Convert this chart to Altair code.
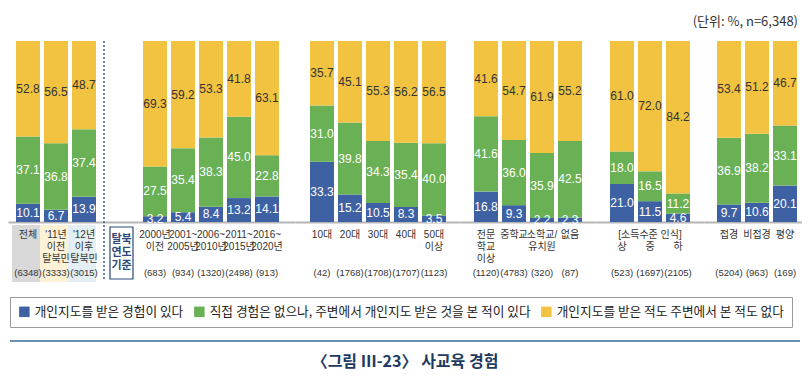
import altair as alt
import pandas as pd

# ---------------- data ----------------
categories = ["전체", "'11년 이전 탈북민", "'12년 이후 탈북민",
              "2000년 이전", "2001~2005년", "2006~2010년", "2011~2015년", "2016~2020년",
              "10대", "20대", "30대", "40대", "50대 이상",
              "전문학교 이상", "중학교", "소학교/유치원", "없음",
              "상", "중", "하",
              "접경", "비접경", "평양"]
group_of = [0, 0, 0, 1, 1, 1, 1, 1, 2, 2, 2, 2, 2, 3, 3, 3, 3, 4, 4, 4, 5, 5, 5]
label_line1 = ["전체", "'11년", "'12년", "2000년", "2001~", "2006~", "2011~", "2016~",
               "10대", "20대", "30대", "40대", "50대", "전문", "중학교", "소학교/", "없음",
               "", "[소득수준 인식]", "", "접경", "비접경", "평양"]
label_line2 = ["", "이전", "이후", "이전", "2005년", "2010년", "2015년", "2020년",
               "", "", "", "", "이상", "학교", "", "유치원", "",
               "상", "중", "하", "", "", ""]
label_line3 = ["", "탈북민", "탈북민", "", "", "", "", "",
               "", "", "", "", "", "이상", "", "", "",
               "", "", "", "", "", ""]
counts = [6348, 3333, 3015, 683, 934, 1320, 2498, 913,
          42, 1768, 1708, 1707, 1123, 1120, 4783, 320, 87,
          523, 1697, 2105, 5204, 963, 169]
had_lesson = [10.1, 6.7, 13.9, 3.2, 5.4, 8.4, 13.2, 14.1, 33.3, 15.2, 10.5, 8.3, 3.5,
              16.8, 9.3, 2.2, 2.3, 21.0, 11.5, 4.6, 9.7, 10.6, 20.1]
seen_others = [37.1, 36.8, 37.4, 27.5, 35.4, 38.3, 45.0, 22.8, 31.0, 39.8, 34.3, 35.4, 40.0,
               41.6, 36.0, 35.9, 42.5, 18.0, 16.5, 11.2, 36.9, 38.2, 33.1]
never = [52.8, 56.5, 48.7, 69.3, 59.2, 53.3, 41.8, 63.1, 35.7, 45.1, 55.3, 56.2, 56.5,
         41.6, 54.7, 61.9, 55.2, 61.0, 72.0, 84.2, 53.4, 51.2, 46.7]
series_names = ["개인지도를 받은 경험이 있다",
                "직접 경험은 없으나, 주변에서 개인지도 받은 것을 본 적이 있다",
                "개인지도를 받은 적도 주변에서 본 적도 없다"]
series_colors = ["#3e61a4", "#6ab156", "#f1c341"]
label_text_colors = ["#ffffff", "#ffffff", "#333333"]
group1_bg = ["#d9d9d9", "#fdf1d6", "#e3eff2"]
unit_text = "(단위: %, n=6,348)"
box_lines = ["탈북", "연도", "기준"]
fig_title = "〈그림 Ⅲ-23〉 사교육 경험"

# ---------------- tables ----------------
rows = []
for i, c in enumerate(categories):
    for s, vals in enumerate([had_lesson, seen_others, never]):
        rows.append({"cat": c, "group": group_of[i], "series": series_names[s],
                     "order": s, "value": vals[i], "tcolor": label_text_colors[s]})
long_df = pd.DataFrame(rows)
lab_df = pd.DataFrame({"cat": categories, "group": group_of, "l1": label_line1,
                       "l2": label_line2, "l3": label_line3,
                       "n": ["(" + str(v) + ")" for v in counts]})
lab_df["bg"] = ""
lab_df.loc[lab_df.group == 0, "bg"] = group1_bg

# ---------------- layout ----------------
H = 181
STEP = 28
PI = 4 / 28
panel_w = [130, 157, 165, 136, 108, 98]
panel_left = [8, 5, 15, 14, 14, 13]
NUM_FONT = "Liberation Sans"
LAB_FONT = "Liberation Sans, Noto Sans CJK KR"
KR_FONT = "Noto Sans CJK KR"


def panel(gi):
    cats = [c for c, g in zip(categories, group_of) if g == gi]
    n = len(cats)
    W = panel_w[gi]
    pO = (W / STEP - n + PI) / 2
    align = panel_left[gi] / (W - STEP * (n - PI))
    xenc = alt.X("cat:N", sort=cats,
                 scale=alt.Scale(domain=cats, paddingInner=PI, paddingOuter=pO, align=align),
                 axis=alt.Axis(labels=False, ticks=False, title=None,
                               domainColor="#b5b5b5", domainWidth=2))
    yscale = alt.Scale(domain=[0, 1])
    base = alt.Chart(long_df[long_df.group == gi]).transform_stack(
        stack="value", as_=["y0", "y1"], groupby=["cat"],
        sort=[alt.SortField("order")], offset="normalize"
    ).transform_calculate(mid="(datum.y0 + datum.y1) / 2")

    bars = base.mark_bar().encode(
        x=xenc,
        y=alt.Y("y0:Q", scale=yscale, axis=None),
        y2="y1:Q",
        color=alt.Color("series:N", scale=alt.Scale(domain=series_names, range=series_colors),
                        legend=alt.Legend(title=None, orient="none", legendX=2, legendY=256,
                                          direction="horizontal", symbolType="square",
                                          symbolSize=110, symbolStrokeWidth=0,
                                          labelFont=KR_FONT, labelFontSize=12.7,
                                          labelColor="#222222", labelLimit=600,
                                          columnPadding=9, labelOffset=4,
                                          strokeColor="#9a9a9a", padding=8)),
    )
    vals = base.mark_text(font=NUM_FONT, fontSize=12).encode(
        x=xenc,
        y=alt.Y("mid:Q", scale=yscale, axis=None),
        text=alt.Text("value:Q", format=".1f"),
        fill=alt.Fill("tcolor:N", scale=None),
    )
    ldata = alt.Chart(lab_df[lab_df.group == gi])
    layers = []
    if gi == 0:
        layers.append(ldata.mark_bar(width=28, xOffset=-2).encode(
            x=xenc, y=alt.value(184), y2=alt.value(241), fill=alt.Fill("bg:N", scale=None)))
    layers.append(bars)
    layers.append(vals)
    lab_style = dict(font=LAB_FONT, fontSize=10, color="#333333")
    layers.append(ldata.mark_text(**lab_style).encode(x=xenc, y=alt.value(194), text="l1:N"))
    layers.append(ldata.mark_text(**lab_style).encode(x=xenc, y=alt.value(206), text="l2:N"))
    layers.append(ldata.mark_text(**lab_style).encode(x=xenc, y=alt.value(218), text="l3:N"))
    layers.append(ldata.mark_text(font=NUM_FONT, fontSize=9.5, color="#333333").encode(
        x=xenc, y=alt.value(232), text="n:N"))

    one = alt.Chart(pd.DataFrame({"t": [unit_text], "f": [fig_title],
                                  "b0": [box_lines[0]], "b1": [box_lines[1]], "b2": [box_lines[2]]}))
    if gi == 0:
        layers.append(one.mark_rule(color="#3b5f8a", strokeDash=[2, 2], strokeWidth=1.5).encode(
            x=alt.value(96), y=alt.value(0), y2=alt.value(240)))
        layers.append(one.mark_rect(fill="transparent", stroke="#2b4a7a", strokeWidth=1.2).encode(
            x=alt.value(102), x2=alt.value(125), y=alt.value(186), y2=alt.value(238)))
        for k, yy in enumerate([199, 212, 225]):
            layers.append(one.mark_text(font=KR_FONT, fontSize=11, fontWeight="bold",
                                        color="#2b4a7a").encode(
                x=alt.value(113.5), y=alt.value(yy), text="b%d:N" % k))
        layers.append(one.mark_rule(color="#6b8fae", strokeWidth=2).encode(
            x=alt.value(2), x2=alt.value(792), y=alt.value(300)))
    if gi == 2:
        layers.append(one.mark_text(font=KR_FONT, fontSize=16, fontWeight="bold",
                                    color="#1e3a60").encode(
            x=alt.value(110), y=alt.value(321), text="f:N"))
    if gi == 5:
        layers.append(one.mark_text(font=KR_FONT, fontSize=13, color="#333333", align="right").encode(
            x=alt.value(94), y=alt.value(-19), text="t:N"))
    return alt.layer(*layers).properties(width=W, height=H)


chart = alt.hconcat(*[panel(g) for g in range(6)], spacing=0, bounds="flush").resolve_scale(
    x="independent"
).properties(
    padding={"left": 0, "top": 8, "right": 0, "bottom": 4}
).configure_view(strokeWidth=0)

chart.save("out.html", embed_options={"renderer": "svg", "actions": False})
